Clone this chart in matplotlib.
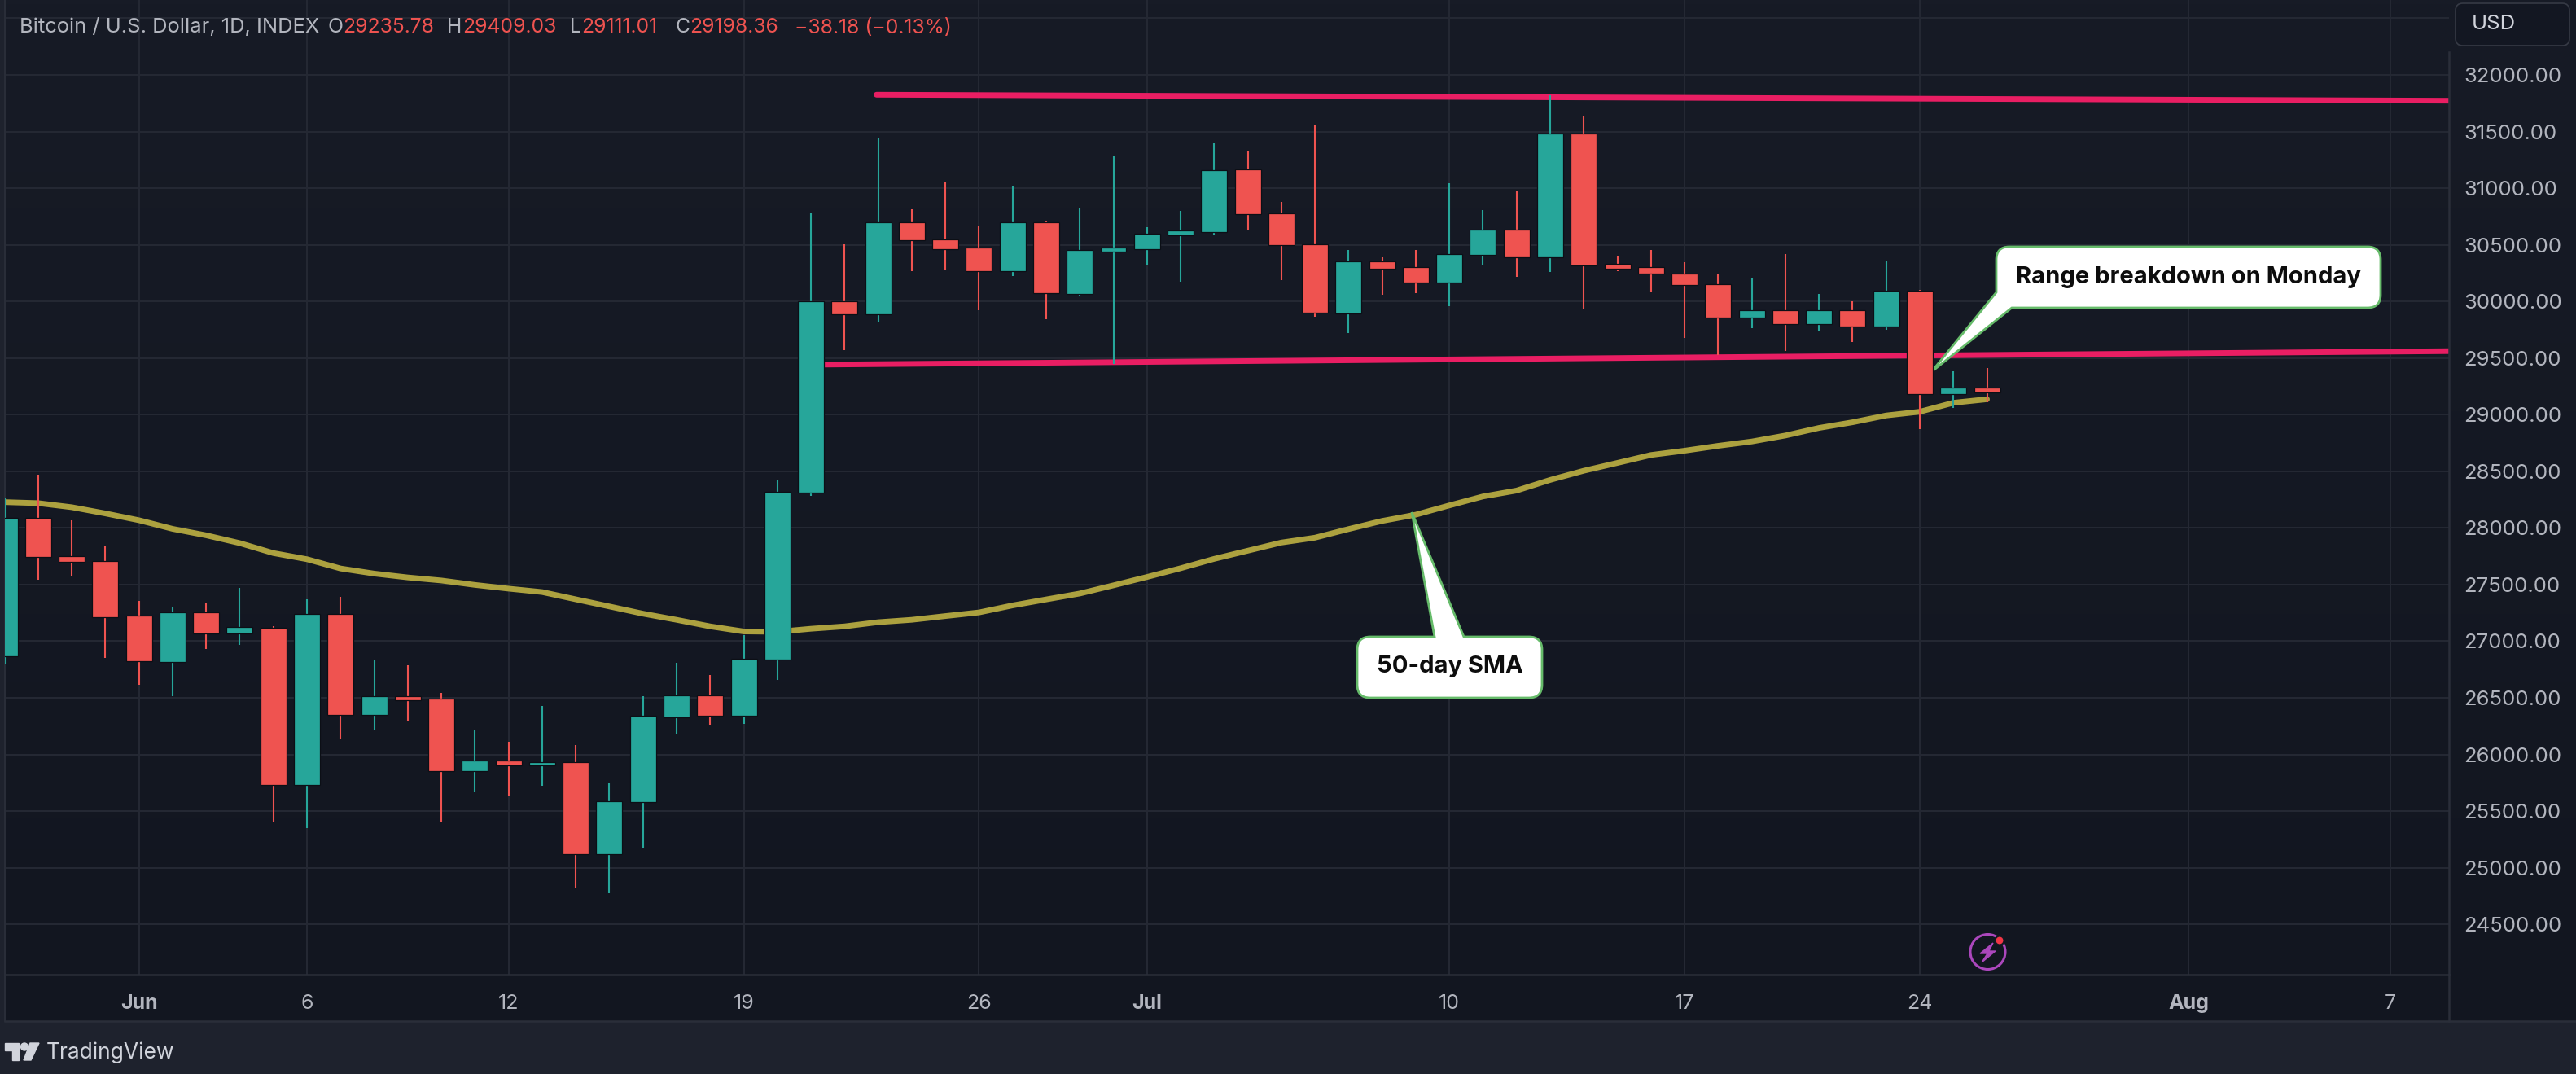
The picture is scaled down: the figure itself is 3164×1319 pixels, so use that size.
import numpy as np
import matplotlib
matplotlib.use("Agg")
import matplotlib.pyplot as plt
from matplotlib.patches import Circle, PathPatch, Polygon, FancyBboxPatch
from matplotlib.path import Path
from matplotlib.transforms import Affine2D

W, H = 3164, 1319
FONT = "Inter"

# day 0 is 1 June
days = list(range(-4, 56))
opens = [26869, 28089, 27754, 27705, 27228, 26814, 27258, 27065, 27122, 25730,
         27243, 26346, 26515, 26491, 25850, 25944, 25902, 25935, 25122, 25579,
         26331, 26521, 26340, 26838, 28310, 30004, 29889, 30701, 30548, 30476,
         30265, 30701, 30066, 30440, 30462, 30584, 30615, 31166, 30778, 30505,
         29894, 30354, 30301, 30167, 30411, 30634, 30387, 31485, 30330, 30301,
         30246, 30155, 29856, 29920, 29803, 29920, 29779, 30095, 29180, 29235.78]
highs = [28260, 28467, 28068, 27838, 27355, 27307, 27343, 27470, 27134, 27373,
         27394, 26835, 26787, 26545, 26216, 26110, 26431, 26086, 25748, 26512,
         26811, 26702, 27053, 28421, 30786, 30505, 31439, 30814, 31051, 30663,
         31020, 30716, 30828, 31279, 30656, 30800, 31394, 31332, 30876, 31554,
         30452, 30390, 30452, 31044, 30807, 30982, 31823, 31643, 30404, 30457,
         30344, 30246, 30201, 30419, 30064, 30002, 30354, 30102, 29384, 29409.03]
lows = [26796, 27545, 27576, 26853, 26618, 26512, 26929, 26965, 25397, 25349,
        26141, 26222, 26292, 25403, 25663, 25630, 25724, 24825, 24775, 25177,
        26177, 26261, 26270, 26657, 28283, 29572, 29817, 30265, 30284, 29925,
        30227, 29841, 30045, 29451, 30325, 30174, 30584, 30630, 30189, 29863,
        29719, 30059, 30074, 29961, 30318, 30220, 30261, 29939, 30265, 30078,
        29676, 29527, 29767, 29566, 29738, 29642, 29750, 28871, 29063, 29111.01]
closes = [28089, 27745, 27702, 27210, 26823, 27258, 27065, 27128, 25730, 27243,
          26346, 26512, 26482, 25850, 25944, 25902, 25935, 25122, 25588, 26340,
          26521, 26340, 26847, 28322, 30004, 29889, 30701, 30541, 30462, 30265,
          30701, 30076, 30452, 30476, 30598, 30630, 31159, 30768, 30495, 29901,
          30354, 30289, 30167, 30419, 30634, 30387, 31485, 30318, 30289, 30244,
          30145, 29856, 29920, 29803, 29920, 29779, 30095, 29180, 29237, 29198.36]
sma = [28228, 28219, 28183, 28128, 28068, 27992, 27935, 27866, 27778, 27724,
       27642, 27597, 27563, 27536, 27497, 27464, 27434, 27370, 27307, 27243,
       27189, 27131, 27086, 27083, 27110, 27131, 27168, 27189, 27222, 27254,
       27316, 27369, 27421, 27493, 27567, 27644, 27727, 27799, 27871, 27914,
       27990, 28062, 28117, 28199, 28278, 28330, 28424, 28505, 28574, 28644,
       28682, 28725, 28763, 28816, 28883, 28933, 28993, 29026, 29105, 29136]

upper_x, upper_y = [21.95, 68.75], [31825, 31772]
lower_x, lower_y = [20.0, 68.75], [29441, 29561]

price_ticks = list(range(24500, 33000, 500))
time_ticks = [0, 5, 11, 18, 25, 30, 39, 46, 53, 61, 67]
time_labels = ["Jun", "6", "12", "19", "26", "Jul", "10", "17", "24", "Aug", "7"]
month_labels = ["Jun", "Jul", "Aug"]

UP, DOWN = "#26a69a", "#ef5350"
TEXT = "#b2b5be"
GRID = "#252934"
FRAME = "#2a2e39"


def fx(x):
    return x / W


def fy(y):
    return 1 - y / H


fig = plt.figure(figsize=(W / 100, H / 100), dpi=100, facecolor="#1e222d")

# panel background, slightly lighter at the top
bg = fig.add_axes([fx(6), fy(1254), fx(W - 6), 1254 / H])
gradient = np.linspace(0, 1, 256).reshape(-1, 1, 1)
top, bottom = np.array([23, 27, 38]) / 255, np.array([18, 22, 32]) / 255
bg.imshow(top + gradient * (bottom - top), aspect="auto")
bg.axis("off")

ax = fig.add_axes([fx(6), fy(1197), 3002 / W, 1197 / H])
ax.patch.set_alpha(0)
ax.set_xlim(-3.99, 68.75)
ax.set_ylim(24056, 32661)

ax.set_xticks(time_ticks)
ax.set_xticklabels(time_labels)
ax.set_yticks(price_ticks)
ax.set_yticklabels([f"{p:.2f}" if p < 32500 else "" for p in price_ticks])
ax.yaxis.tick_right()
ax.grid(True, color=GRID, lw=1.4, zorder=1)
ax.set_axisbelow(True)
ax.tick_params(axis="x", length=0, pad=17, labelsize=18, labelcolor=TEXT)
ax.tick_params(axis="y", length=0, pad=13, labelsize=18.5, labelcolor=TEXT)
for lab in ax.get_xticklabels():
    lab.set_family(FONT)
    if lab.get_text() in month_labels:
        lab.set_fontweight("bold")
for lab in ax.get_yticklabels():
    lab.set_family(FONT)
for name in ["top", "left"]:
    ax.spines[name].set_visible(False)
for name in ["right", "bottom"]:
    ax.spines[name].set_color(FRAME)
    ax.spines[name].set_linewidth(1.8)
ax.spines["right"].set_bounds(24056, 32201)

# trend lines and moving average sit behind the candles
ax.plot(upper_x, upper_y, color="#e91e63", lw=5, solid_capstyle="round", zorder=2)
ax.plot(lower_x, lower_y, color="#e91e63", lw=5, solid_capstyle="butt", zorder=2)
ax.plot(days, sma, color="#aca13f", lw=5, solid_capstyle="round", zorder=3)

# candles
colors = [UP if c >= o else DOWN for o, c in zip(opens, closes)]
ax.vlines(days, lows, highs, colors=colors, lw=1.5, zorder=4)
body_bottom = [min(o, c) for o, c in zip(opens, closes)]
body_height = [abs(o - c) for o, c in zip(opens, closes)]
ax.bar(days, body_height, bottom=body_bottom, width=0.775, color=colors,
       edgecolor="#0c0f16", linewidth=0.9, zorder=4.2, clip_on=True)

# everything below is placed in image pixels (origin top left)
px = Affine2D().scale(1, -1).translate(0, H)


def callout(verts, codes, zorder=3.5):
    patch = PathPatch(Path(verts, codes), facecolor="white", edgecolor="#66bb6a",
                      lw=2, transform=px, zorder=zorder, clip_on=False, joinstyle="miter")
    ax.add_patch(patch)


M, L, C, Z = Path.MOVETO, Path.LINETO, Path.CURVE3, Path.CLOSEPOLY

# range breakdown bubble, its tail leaves from the lower left corner
x0, y0, x1, y1, r = 2452, 303, 2924, 378, 16
callout(
    [(x0 + r, y0), (x1 - r, y0), (x1, y0), (x1, y0 + r), (x1, y1 - r), (x1, y1), (x1 - r, y1),
     (2471, y1), (2372, 457), (x0, 359), (x0, y0 + r), (x0, y0), (x0 + r, y0), (x0 + r, y0)],
    [M, L, C, C, L, C, C, L, L, L, L, C, C, Z],
)
ax.text(2688, 340, "Range breakdown on Monday", transform=px, family=FONT, fontweight="bold",
        fontsize=21, color="#0d0d0d", ha="center", va="center", zorder=5)

# 50-day SMA bubble, tail leaves from the top edge
x0, y0, x1, y1, r = 1667, 782, 1894, 857, 16
callout(
    [(x0 + r, y0), (1762, y0), (1734, 629), (1798, y0), (x1 - r, y0), (x1, y0), (x1, y0 + r),
     (x1, y1 - r), (x1, y1), (x1 - r, y1), (x0 + r, y1), (x0, y1), (x0, y1 - r),
     (x0, y0 + r), (x0, y0), (x0 + r, y0), (x0 + r, y0)],
    [M, L, L, L, L, C, C, L, C, C, L, C, C, L, C, C, Z],
)
ax.text(1781, 819, "50-day SMA", transform=px, family=FONT, fontweight="bold",
        fontsize=21, color="#0d0d0d", ha="center", va="center", zorder=5)

# lightning badge
ax.add_patch(Circle((2441.5, 1169), 21.5, fill=False, edgecolor="#ab47bc", lw=2.2, transform=px, zorder=5))
ax.add_patch(Polygon([(2448, 1158), (2432, 1171), (2441, 1171), (2434, 1182), (2451, 1168), (2443, 1168)],
                     closed=True, color="#ab47bc", transform=px, zorder=5))
ax.add_patch(Circle((2456, 1155), 5.5, facecolor="#f23645", edgecolor="#141823", lw=1.5, transform=px, zorder=5))


def label(x, y, s, color=TEXT, size=17.8, weight="normal", ha="left"):
    fig.text(fx(x), fy(y), s, color=color, fontsize=size, fontweight=weight,
             family=FONT, ha=ha, va="center")


# legend row
label(24, 34, "Bitcoin / U.S. Dollar, 1D, INDEX", size=18.4)
label(402, 34, "O")
label(421, 34, "29235.78", DOWN)
label(549, 34, "H")
label(568, 34, "29409.03", DOWN)
label(700, 34, "L")
label(714, 34, "29111.01", DOWN)
label(829, 34, "C")
label(847, 34, "29198.36", DOWN)
label(976, 34, "\u221238.18 (\u22120.13%)", DOWN)

# currency button
btn = FancyBboxPatch((3024, 12), 124, 36, boxstyle="round,pad=8,rounding_size=9",
                     facecolor="#131722", edgecolor="#363a45", lw=1.2,
                     transform=px, zorder=6, clip_on=False)
ax.add_patch(btn)
ax.text(3036, 30, "USD", transform=px, family=FONT, fontsize=18.5, color="#d1d4dc",
        ha="left", va="center", zorder=7, clip_on=False)

# price/time axis divider and bottom edge of the chart
ax.plot([3008, 3008], [1197, 1254], color=FRAME, lw=1.8, transform=px, clip_on=False)
ax.plot([6, W], [1254, 1254], color=FRAME, lw=1.8, transform=px, clip_on=False)
ax.plot([6, 6], [0, 1254], color=FRAME, lw=1.4, transform=px, clip_on=False)

# TradingView logo
LOGO = "#d1d4dc"
ax.add_patch(Polygon([(6, 1281), (23, 1281), (23, 1302), (15, 1302), (15, 1290), (6, 1290)],
                     closed=True, color=LOGO, transform=px, clip_on=False))
ax.add_patch(Circle((30, 1285.5), 4.5, color=LOGO, transform=px, clip_on=False))
ax.add_patch(Polygon([(37, 1281), (48, 1281), (38, 1302), (29, 1302)],
                     closed=True, color=LOGO, transform=px, clip_on=False))
label(57, 1293, "TradingView", "#d1d4dc", size=19)

fig.savefig("out.png", dpi=100, facecolor=fig.get_facecolor())
